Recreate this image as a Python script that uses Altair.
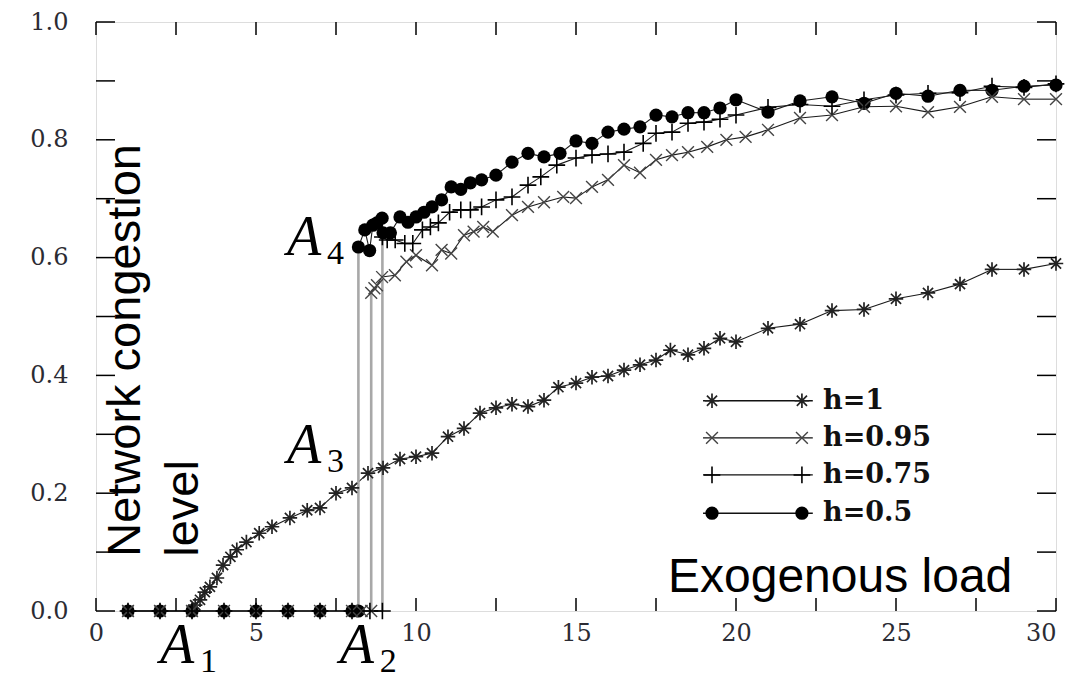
import altair as alt
import pandas as pd

# ---------------- data ----------------
series_names = ["h=1", "h=0.95", "h=0.75", "h=0.5"]

h1_x = [1, 2, 3, 3.1, 3.25, 3.4, 3.56, 3.78, 3.97, 4.2, 4.4, 4.7, 5.1, 5.5, 6.06, 6.6, 7.0, 7.5,
        8.0, 8.5, 8.97, 9.5, 10.0, 10.5, 11.0, 11.5, 12.0, 12.5, 13.0, 13.5, 14.0, 14.45, 15.0,
        15.5, 16.0, 16.5, 17.0, 17.5, 17.95, 18.5, 19.0, 19.5, 20.0, 21, 22, 23, 24, 25, 26, 27,
        28, 29, 30]
h1_y = [0, 0, 0, 0.01, 0.019, 0.032, 0.041, 0.056, 0.078, 0.092, 0.104, 0.117, 0.132, 0.143,
        0.158, 0.171, 0.175, 0.2, 0.209, 0.234, 0.243, 0.258, 0.262, 0.268, 0.296, 0.31, 0.336,
        0.345, 0.351, 0.347, 0.358, 0.38, 0.387, 0.397, 0.399, 0.409, 0.418, 0.426, 0.443, 0.435,
        0.446, 0.463, 0.457, 0.48, 0.487, 0.51, 0.512, 0.53, 0.54, 0.555, 0.58, 0.58, 0.59]

h95_x = [1, 2, 3, 4, 5, 6, 7, 8, 8.3, 8.6, 8.6, 8.7, 8.78, 8.94, 9.34, 9.7, 10.0, 10.5, 10.8,
         11.1, 11.5, 11.8, 12.1, 12.4, 13.0, 13.5, 14.0, 14.6, 15.0, 15.5, 16.0, 16.5, 17.0, 17.5,
         18.0, 18.5, 19.1, 19.7, 20.3, 21, 22, 23, 24, 25, 26, 27, 28, 29, 30]
h95_y = [0, 0, 0, 0, 0, 0, 0, 0, 0, 0, 0.54, 0.548, 0.553, 0.567, 0.57, 0.593, 0.604, 0.587,
         0.613, 0.607, 0.638, 0.644, 0.652, 0.644, 0.672, 0.686, 0.694, 0.703, 0.701, 0.72, 0.732,
         0.757, 0.744, 0.766, 0.774, 0.779, 0.788, 0.8, 0.805, 0.817, 0.837, 0.842, 0.856, 0.857,
         0.847, 0.856, 0.873, 0.869, 0.869]

h75_x = [1, 2, 3, 4, 5, 6, 7, 8, 8.56, 8.95, 8.95, 9.1, 9.35, 9.65, 9.9, 10.2, 10.45, 10.7,
         11.05, 11.4, 11.7, 12.05, 12.5, 13.0, 13.5, 13.9, 14.4, 15.0, 15.5, 16.0, 16.5, 17.1,
         17.5, 18.0, 18.5, 19.0, 19.5, 20.0, 21, 22, 23, 24, 25, 26, 27, 28, 29, 30]
h75_y = [0, 0, 0, 0, 0, 0, 0, 0, 0, 0, 0.635, 0.63, 0.63, 0.624, 0.624, 0.647, 0.652, 0.659,
         0.677, 0.681, 0.681, 0.686, 0.698, 0.703, 0.723, 0.737, 0.757, 0.769, 0.774, 0.776,
         0.779, 0.794, 0.811, 0.813, 0.828, 0.83, 0.835, 0.842, 0.855, 0.86, 0.857, 0.868, 0.876,
         0.879, 0.88, 0.891, 0.889, 0.895]

h5_x = [1, 2, 3, 4, 5, 6, 7, 8, 8.2, 8.2, 8.4, 8.55, 8.65, 8.78, 8.94, 8.97, 9.2, 9.5, 9.75,
        10.0, 10.25, 10.5, 10.8, 11.1, 11.4, 11.7, 12.05, 12.5, 13.0, 13.5, 14.0, 14.5, 15.0,
        15.5, 16.0, 16.5, 17.0, 17.5, 18.0, 18.5, 19.0, 19.5, 20.0, 21, 22, 23, 24, 25, 26, 27,
        28, 29, 30]
h5_y = [0, 0, 0, 0, 0, 0, 0, 0, 0, 0.618, 0.647, 0.612, 0.655, 0.659, 0.667, 0.642, 0.642,
        0.669, 0.66, 0.669, 0.677, 0.686, 0.698, 0.72, 0.716, 0.727, 0.732, 0.74, 0.762, 0.777,
        0.771, 0.777, 0.798, 0.794, 0.813, 0.818, 0.822, 0.842, 0.839, 0.846, 0.846, 0.854,
        0.868, 0.847, 0.866, 0.873, 0.862, 0.879, 0.874, 0.884, 0.884, 0.891, 0.893]

x_label_values = [0, 5, 10, 15, 20, 25]
x_last_label = [30]
y_label_values = [0.0, 0.2, 0.4, 0.6, 0.8, 1.0]
x_tick_values = [0, 2.5, 5, 7.5, 10, 12.5, 15, 17.5, 20, 22.5, 25, 27.5, 30]
y_tick_values = [0.0, 0.1, 0.2, 0.3, 0.4, 0.5, 0.6, 0.7, 0.8, 0.9, 1.0]

ann_main = ["A", "A", "A", "A"]
ann_sub = ["1", "2", "3", "4"]
ann_x = [2.0, 7.62, 5.97, 5.97]
ann_y = [-0.088, -0.088, 0.251, 0.604]

# ---------------- layout / styles ----------------
W, H = 960, 589
XT, YT = 13, 19          # inward tick lengths (px)
xscale = alt.Scale(domain=[0, 30], nice=False, zero=False)
yscale = alt.Scale(domain=[0, 1], nice=False, zero=False)

STAR = "M-1,0L1,0M0,-1L0,1M-0.7,-0.7L0.7,0.7M-0.7,0.7L0.7,-0.7"
XMARK = "M-1,-1L1,1M-1,1L1,-1"
PLUS = "M-1,0L1,0M0,-1L0,1"
styles = {
    "h=1": dict(shape=STAR, size=210, filled=False, color="#222222", strokeWidth=1.7),
    "h=0.95": dict(shape=XMARK, size=140, filled=False, color="#444444", strokeWidth=1.4),
    "h=0.75": dict(shape=PLUS, size=280, filled=False, color="#000000", strokeWidth=1.6),
    "h=0.5": dict(shape="circle", size=175, filled=True, color="#000000", strokeWidth=1),
}

all_series = [("h=1", h1_x, h1_y), ("h=0.95", h95_x, h95_y),
              ("h=0.75", h75_x, h75_y), ("h=0.5", h5_x, h5_y)]

pts_rows, seg_rows = [], []
for name, xs, ys in all_series:
    for a, b in zip(xs, ys):
        pts_rows.append(dict(series=name, x=a, y=b))
    for i in range(len(xs) - 1):
        seg_rows.append(dict(series=name, x=xs[i], y=ys[i], x2=xs[i + 1], y2=ys[i + 1],
                             kind="jump" if xs[i] == xs[i + 1] else "step"))
pts = pd.DataFrame(pts_rows)
segs = pd.DataFrame(seg_rows)


def X(field):
    return alt.X(field, type="quantitative", scale=xscale, axis=None)


def Y(field):
    return alt.Y(field, type="quantitative", scale=yscale, axis=None)


# connecting lines
lines = alt.Chart(segs).mark_rule().encode(
    x=X("x"), y=Y("y"), x2="x2", y2="y2",
    color=alt.Color("kind:N", scale=alt.Scale(domain=["step", "jump"],
                                              range=["#1a1a1a", "#a8a8a8"]), legend=None),
    strokeWidth=alt.StrokeWidth("kind:N", scale=alt.Scale(domain=["step", "jump"],
                                                          range=[1.1, 2.6]), legend=None),
)


def marker_layer(df, name, xf, yf):
    s = styles[name]
    kw = dict(shape=s["shape"], size=s["size"], filled=s["filled"], opacity=1)
    if s["filled"]:
        kw.update(color=s["color"])
    else:
        kw.update(stroke=s["color"], strokeWidth=s["strokeWidth"])
    return alt.Chart(df[df["series"] == name]).mark_point(**kw).encode(x=X(xf), y=Y(yf))


# circles first so that the arms of the other markers show over them
draw_order = ["h=0.5", "h=1", "h=0.95", "h=0.75"]
markers = [marker_layer(pts, n, "x", "y") for n in draw_order]

# ---------------- legend (drawn inside the plot) ----------------
leg_y = [0.357, 0.294, 0.231, 0.166]
leg = pd.DataFrame({"series": series_names, "label": series_names, "ly": leg_y,
                    "lx1": 18.97, "lx2": 22.4, "lt": 22.72})
leg_m = pd.DataFrame([dict(series=s, ly=yv, mx=mx) for s, yv in zip(series_names, leg_y)
                      for mx in (19.25, 22.06)])
leg_lines = alt.Chart(leg).mark_rule(color="#111111", strokeWidth=1.3).encode(
    x=X("lx1"), x2="lx2", y=Y("ly"))
leg_marks = [marker_layer(leg_m, n, "mx", "ly") for n in series_names]
leg_text = alt.Chart(leg).mark_text(align="left", baseline="middle", font="DejaVu Serif",
                                    fontWeight="bold", fontSize=27, color="#111111").encode(
    x=X("lt"), y=Y("ly"), text="label:N")

# ---------------- annotations ----------------
ann = pd.DataFrame({"main": ann_main, "sub": ann_sub, "ax": ann_x, "ay": ann_y})
ann_A = alt.Chart(ann).mark_text(align="left", baseline="alphabetic", font="Liberation Serif",
                                 fontStyle="italic", fontSize=56, color="black").encode(
    x=X("ax"), y=Y("ay"), text="main:N")
ann_S = alt.Chart(ann).mark_text(align="left", baseline="alphabetic", font="Liberation Serif",
                                 fontSize=34, color="black", dx=40, dy=9).encode(
    x=X("ax"), y=Y("ay"), text="sub:N")

titles = pd.DataFrame({"t": ["Network congestion", "level", "Exogenous load"],
                       "tx": [1.36, 3.2, 17.875], "ty": [0.092, 0.092, 0.032],
                       "ang": [270, 270, 0]})
t_rot = alt.Chart(titles[titles["ang"] == 270]).mark_text(
    align="left", baseline="alphabetic", angle=270, font="Liberation Sans", fontSize=47,
    color="black").encode(x=X("tx"), y=Y("ty"), text="t:N")
t_hor = alt.Chart(titles[titles["ang"] == 0]).mark_text(
    align="left", baseline="alphabetic", font="Liberation Sans", fontSize=48,
    color="black").encode(x=X("tx"), y=Y("ty"), text="t:N")

# ---------------- inward ticks on all four sides, from the tick value lists ----------------
xt = pd.DataFrame({"v": x_tick_values})
yt = pd.DataFrame({"v": y_tick_values})
TK = dict(color="black", strokeWidth=1.5)
tick_bottom = alt.Chart(xt).mark_rule(**TK).encode(
    x=X("v"), y=alt.value(H - XT), y2=alt.value(H))
tick_top = alt.Chart(xt).mark_rule(**TK).encode(
    x=X("v"), y=alt.value(0), y2=alt.value(XT))
tick_left = alt.Chart(yt).mark_rule(**TK).encode(
    y=Y("v"), x=alt.value(0), x2=alt.value(YT))
tick_right = alt.Chart(yt).mark_rule(**TK).encode(
    y=Y("v"), x=alt.value(W - YT), x2=alt.value(W))

# ---------------- axis labels (outside the frame) ----------------
dummy = pd.DataFrame({"x": [0, 30], "y": [0, 1]})
LBL = dict(labelFont="DejaVu Serif", labelFontSize=24, labelColor="#2b2b33",
           labelOverlap=False, labelFlush=False, grid=False, ticks=False, domain=False,
           title=None)


def axis_layer(xaxis, yaxis):
    return alt.Chart(dummy).mark_point(opacity=0).encode(
        x=alt.X("x:Q", scale=xscale, axis=xaxis), y=alt.Y("y:Q", scale=yscale, axis=yaxis))


labels_layer = axis_layer(
    alt.Axis(orient="bottom", values=x_label_values, format="d", labelPadding=10, **LBL),
    alt.Axis(orient="left", values=y_label_values, format=".1f", labelPadding=28, **LBL))
last_label_layer = axis_layer(
    alt.Axis(orient="bottom", values=x_last_label, format="d", labelPadding=10,
             labelAlign="right", **LBL),
    None)

chart = alt.layer(
    labels_layer, last_label_layer,
    lines, *markers,
    leg_lines, *leg_marks, leg_text,
    ann_A, ann_S, t_rot, t_hor,
    tick_right, tick_top, tick_left, tick_bottom,
).resolve_axis(x="independent", y="independent").properties(
    width=W, height=H,
    autosize=alt.AutoSizeParams(type="none"),
    padding={"left": 88, "top": 14, "right": 12, "bottom": 71},
).configure_view(stroke="black", strokeWidth=1.5).configure(background="white")

chart.save("out.html", embed_options={"renderer": "svg", "actions": False})
